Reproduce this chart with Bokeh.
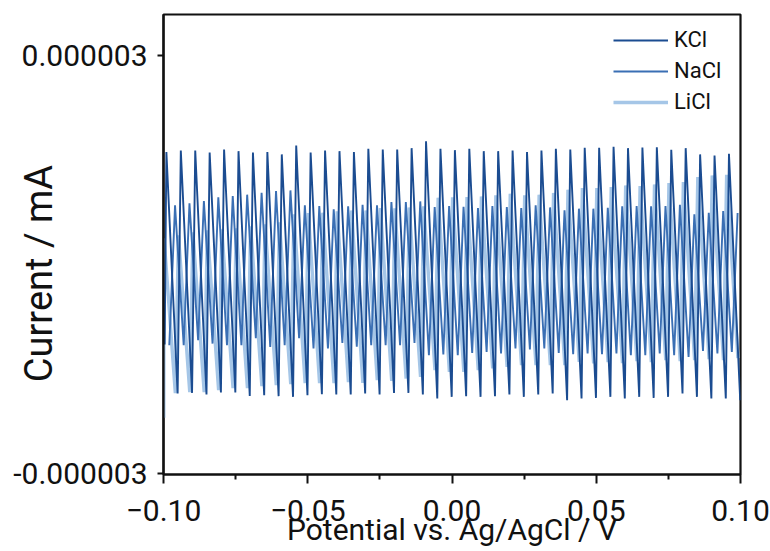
import numpy as np
from bokeh.plotting import figure
from bokeh.models import (FixedTicker, CustomJSTickFormatter, Legend, LegendItem,
                          Range1d, ColumnDataSource)
from bokeh.embed import file_html
from bokeh.resources import INLINE

# ---------------- data ----------------
series_names = ["KCl", "NaCl", "LiCl"]
x_ticks = [-0.10, -0.05, 0.00, 0.05, 0.10]
x_minor_ticks = [-0.075, -0.025, 0.025, 0.075]
y_ticks = [-0.000003, 0.000003]
x_label = "Potential vs. Ag/AgCl / V"
y_label = "Current / mA"

# oscillation: 40 cycles across the scan, 0.005 V apart
n_cycles = 40
cycle_period = 0.005
kcl_peak_x0, kcl_trough_x0 = -0.0990, -0.0951
nacl_trough_x0, nacl_peak_x0 = -0.0980, -0.0960
licl_peak_x0, licl_trough_x0 = -0.0998, -0.0959
kcl_start = (-0.0996, -1.15e-6)
licl_start = (-0.0999, -2.20e-6)

kcl_peaks = [1.614e-6, 1.638e-6, 1.638e-6, 1.609e-6, 1.652e-6, 1.628e-6, 1.609e-6, 1.614e-6,
             1.581e-6, 1.710e-6, 1.609e-6, 1.638e-6, 1.628e-6, 1.614e-6, 1.662e-6, 1.652e-6,
             1.652e-6, 1.671e-6, 1.771e-6, 1.662e-6, 1.642e-6, 1.662e-6, 1.628e-6, 1.628e-6,
             1.638e-6, 1.614e-6, 1.638e-6, 1.662e-6, 1.652e-6, 1.677e-6, 1.677e-6, 1.691e-6,
             1.671e-6, 1.681e-6, 1.685e-6, 1.648e-6, 1.671e-6, 1.581e-6, 1.566e-6, 1.591e-6]
kcl_troughs = [-1.852e-6, -1.843e-6, -1.866e-6, -1.837e-6, -1.837e-6, -1.886e-6, -1.876e-6, -1.890e-6,
               -1.900e-6, -1.876e-6, -1.862e-6, -1.866e-6, -1.866e-6, -1.852e-6, -1.866e-6, -1.843e-6,
               -1.843e-6, -1.866e-6, -1.923e-6, -1.900e-6, -1.890e-6, -1.900e-6, -1.890e-6, -1.866e-6,
               -1.900e-6, -1.866e-6, -1.852e-6, -1.948e-6, -1.923e-6, -1.915e-6, -1.900e-6, -1.923e-6,
               -1.900e-6, -1.915e-6, -1.900e-6, -1.852e-6, -1.900e-6, -1.923e-6, -1.923e-6, -1.948e-6]

nacl_peaks = [0.849e-6, 0.878e-6, 0.911e-6, 0.964e-6, 0.982e-6, 1.003e-6, 1.031e-6, 1.054e-6,
              1.064e-6, 0.849e-6, 0.839e-6, 0.792e-6, 0.835e-6, 0.859e-6, 0.849e-6, 0.896e-6,
              0.896e-6, 0.906e-6, 0.825e-6, 0.839e-6, 0.830e-6, 0.810e-6, 0.839e-6, 0.825e-6,
              0.810e-6, 0.849e-6, 0.820e-6, 0.777e-6, 0.802e-6, 0.802e-6, 0.816e-6, 0.835e-6,
              0.839e-6, 0.835e-6, 0.839e-6, 0.859e-6, 0.720e-6, 0.744e-6, 0.767e-6, 0.739e-6]
nacl_troughs = [-1.159e-6, -1.159e-6, -1.087e-6, -1.135e-6, -1.159e-6, -1.159e-6, -1.059e-6, -1.183e-6,
                -1.159e-6, -1.059e-6, -1.206e-6, -1.206e-6, -1.126e-6, -1.180e-6, -1.159e-6, -1.159e-6,
                -1.159e-6, -1.126e-6, -1.302e-6, -1.292e-6, -1.302e-6, -1.269e-6, -1.255e-6, -1.278e-6,
                -1.206e-6, -1.221e-6, -1.206e-6, -1.269e-6, -1.288e-6, -1.278e-6, -1.288e-6, -1.278e-6,
                -1.302e-6, -1.302e-6, -1.278e-6, -1.302e-6, -1.327e-6, -1.241e-6, -1.278e-6, -1.255e-6]

licl_peaks = [0.376e-6, 0.419e-6, 0.462e-6, 0.491e-6, 0.505e-6, 0.519e-6, 0.548e-6, 0.577e-6,
              0.605e-6, 0.720e-6, 0.739e-6, 0.744e-6, 0.763e-6, 0.777e-6, 0.777e-6, 0.810e-6,
              0.806e-6, 0.820e-6, 0.835e-6, 0.960e-6, 0.964e-6, 0.968e-6, 0.978e-6, 0.993e-6,
              1.017e-6, 0.993e-6, 1.003e-6, 1.028e-6, 1.074e-6, 1.097e-6, 1.097e-6, 1.112e-6,
              1.136e-6, 1.126e-6, 1.150e-6, 1.169e-6, 1.183e-6, 1.255e-6, 1.279e-6, 1.289e-6]
licl_troughs = [-1.847e-6, -1.833e-6, -1.833e-6, -1.804e-6, -1.776e-6, -1.776e-6, -1.747e-6, -1.733e-6,
                -1.718e-6, -1.704e-6, -1.704e-6, -1.704e-6, -1.690e-6, -1.700e-6, -1.661e-6, -1.671e-6,
                -1.637e-6, -1.614e-6, -1.517e-6, -1.542e-6, -1.542e-6, -1.517e-6, -1.493e-6, -1.470e-6,
                -1.446e-6, -1.446e-6, -1.446e-6, -1.446e-6, -1.398e-6, -1.421e-6, -1.403e-6, -1.417e-6,
                -1.388e-6, -1.403e-6, -1.374e-6, -1.388e-6, -1.374e-6, -1.360e-6, -1.374e-6, -1.345e-6]

colors = {"KCl": "#1b4c91", "NaCl": "#3a6fb4", "LiCl": "#a5c6e7"}
widths = {"KCl": 1.9, "NaCl": 1.9, "LiCl": 3.4}
FONT = "Roboto"


def zigzag(x0_a, vals_a, x0_b, vals_b, start=None):
    xs, ys = [], []
    if start is not None:
        xs.append(start[0]); ys.append(start[1])
    for k in range(n_cycles):
        xs += [x0_a + k * cycle_period, x0_b + k * cycle_period]
        ys += [vals_a[k], vals_b[k]]
    return ColumnDataSource(dict(x=xs, y=ys))


src = {
    "KCl": zigzag(kcl_peak_x0, kcl_peaks, kcl_trough_x0, kcl_troughs, kcl_start),
    "NaCl": zigzag(nacl_trough_x0, nacl_troughs, nacl_peak_x0, nacl_peaks),
    "LiCl": zigzag(licl_peak_x0, licl_peaks, licl_trough_x0, licl_troughs, licl_start),
}

p = figure(width=770, height=551, output_backend="svg", toolbar_location=None,
           x_range=Range1d(-0.1, 0.1), y_range=Range1d(-3.015e-6, 3.59e-6),
           min_border_left=163, min_border_top=14, min_border_right=30, min_border_bottom=77)
p.background_fill_color = "white"
p.border_fill_color = "white"
p.grid.visible = False
p.outline_line_color = "#111111"
p.outline_line_width = 2.2
p.outline_line_alpha = 1.0

renderers = {}
for name in ["LiCl", "NaCl", "KCl"]:
    renderers[name] = p.line("x", "y", source=src[name], line_color=colors[name],
                             line_width=widths[name])

# axes
xa = p.xaxis[0]
xa.ticker = FixedTicker(ticks=x_ticks, minor_ticks=x_minor_ticks)
xa.formatter = CustomJSTickFormatter(code="""
    const a = Math.abs(tick);
    return (tick < -1e-12 ? "\u2212" : "") + a.toFixed(2);
""")
ya = p.yaxis[0]
ya.ticker = FixedTicker(ticks=y_ticks, minor_ticks=[])
ya.formatter = CustomJSTickFormatter(code="return tick.toFixed(6);")

for ax in (xa, ya):
    ax.axis_line_width = 2.2
    ax.axis_line_color = "#111111"
    ax.major_tick_line_width = 2
    ax.minor_tick_line_width = 2
    ax.major_tick_line_color = "#111111"
    ax.minor_tick_line_color = "#111111"
    ax.major_tick_in = 0
    ax.minor_tick_in = 0
    ax.major_label_text_font = FONT
    ax.major_label_text_font_size = "30px"
    ax.major_label_text_color = "#111111"
    ax.axis_label_text_font = FONT
    ax.axis_label_text_font_style = "normal"
    ax.axis_label_text_color = "#111111"
xa.major_tick_out = 9
xa.minor_tick_out = 5
xa.major_label_standoff = 16
xa.axis_label = x_label
xa.axis_label_text_font_size = "30px"
xa.axis_label_standoff = -12
ya.major_tick_out = 6
ya.major_label_standoff = 10
ya.axis_label = y_label + "\u2002\u2002\u2002"
ya.axis_label_text_font_size = "38px"
ya.axis_label_standoff = -51

legend = Legend(items=[LegendItem(label=n, renderers=[renderers[n]]) for n in series_names],
                location="top_right", border_line_color=None, background_fill_alpha=0,
                label_text_font=FONT, label_text_font_size="22px", label_text_color="#111111",
                glyph_width=55, glyph_height=24, label_height=24, label_standoff=6,
                spacing=6, padding=0, margin=13, label_width=53)
p.add_layout(legend)

open("out.html", "w").write(file_html(p, INLINE))
